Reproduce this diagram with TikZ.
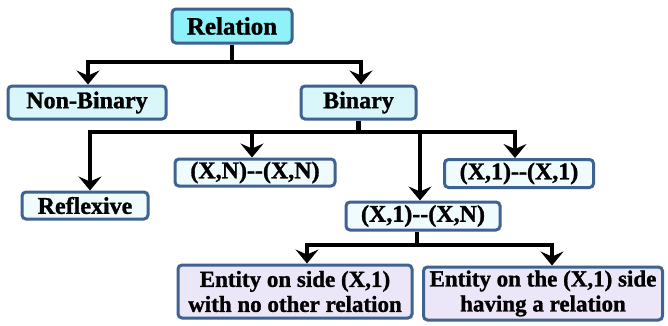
\documentclass[tikz,border=0pt]{standalone}
\usepackage{fontspec}
\setmainfont{Liberation Serif}[BoldFeatures={FakeBold=1.2}]
\usetikzlibrary{arrows.meta}

\definecolor{boxline}{HTML}{3E6390}
\definecolor{rootfill}{HTML}{8EF2F8}
\definecolor{midfill}{HTML}{D9F7FA}
\definecolor{leaffill}{HTML}{F0FBFE}
\definecolor{entfill}{HTML}{EBE7F8}

\tikzset{
  box/.style={draw=boxline, line width=3pt, rounded corners=4pt,
    inner sep=0pt, align=center, text=black,
    font=\fontsize{24}{25}\selectfont\bfseries},
  rootbox/.style={box, fill=rootfill, font=\fontsize{25}{26}\selectfont\bfseries},
  midbox/.style={box, fill=midfill},
  leafbox/.style={box, fill=leaffill},
  entbox/.style={box, fill=entfill, font=\fontsize{23}{25}\selectfont\bfseries},
  wire/.style={line width=4.5pt, black},
  arrowwire/.style={wire, -{Stealth[length=14pt,width=23pt,inset=5pt]}},
}

\newcommand{\dd}{-\kern0pt-}

\begin{document}
\begin{tikzpicture}[x=1pt,y=-1pt]
  \useasboundingbox (0,0) rectangle (668,325);

  % boxes
  \node[rootbox, minimum width=120pt, minimum height=34pt] (rel) at (232,26) {Relation};
  \node[midbox, minimum width=158pt, minimum height=33pt] (nonbin) at (87,102.5) {Non-Binary};
  \node[midbox, minimum width=115pt, minimum height=33pt] (bin) at (358.5,102.5) {Binary};
  \node[leafbox, minimum width=126pt, minimum height=27pt] (refl) at (85,205.5) {Reflexive};
  \node[leafbox, minimum width=160pt, minimum height=27pt] (xnxn) at (255,172.5) {(X,N)\dd(X,N)};
  \node[leafbox, minimum width=149pt, minimum height=28pt] (xoxo) at (519,173.5) {(X,1)\dd(X,1)};
  \node[leafbox, minimum width=154pt, minimum height=28pt] (xoxn) at (423,216) {(X,1)\dd(X,N)};
  \node[entbox, minimum width=234pt, minimum height=53pt] (entA) at (295,291.5)
    {Entity on side (X,1)\\with no other relation};
  \node[entbox, minimum width=239pt, minimum height=53pt] (entB) at (543,293.5)
    {Entity on the (X,1) side\\having a relation};

  % junction points of the tree
  \coordinate (j1) at (232,62);
  \coordinate (j2) at (358.5,132);
  \coordinate (j3) at (417,245);

  % Relation -> Non-Binary / Binary
  \draw[wire] (rel.south) -- (j1);
  \draw[arrowwire] (j1) -| ([xshift=1pt]nonbin.north);
  \draw[arrowwire] (j1) -| ([xshift=2.5pt]bin.north);

  % Binary -> its four kinds
  \draw[wire] (bin.south) -- (j2);
  \draw[arrowwire] (j2) -| ([xshift=5pt]refl.north);
  \draw[arrowwire] (j2) -| ([xshift=-3pt]xnxn.north);
  \draw[arrowwire] (j2) -| ([xshift=-3pt]xoxn.north);
  \draw[arrowwire] (j2) -| ([xshift=-4pt]xoxo.north);

  % (X,1)--(X,N) -> the two entity cases
  \draw[wire] ([xshift=-6pt]xoxn.south) -- (j3);
  \draw[arrowwire] (j3) -| ([xshift=12pt]entA.north);
  \draw[arrowwire] (j3) -| ([xshift=9pt]entB.north);
\end{tikzpicture}
\end{document}
